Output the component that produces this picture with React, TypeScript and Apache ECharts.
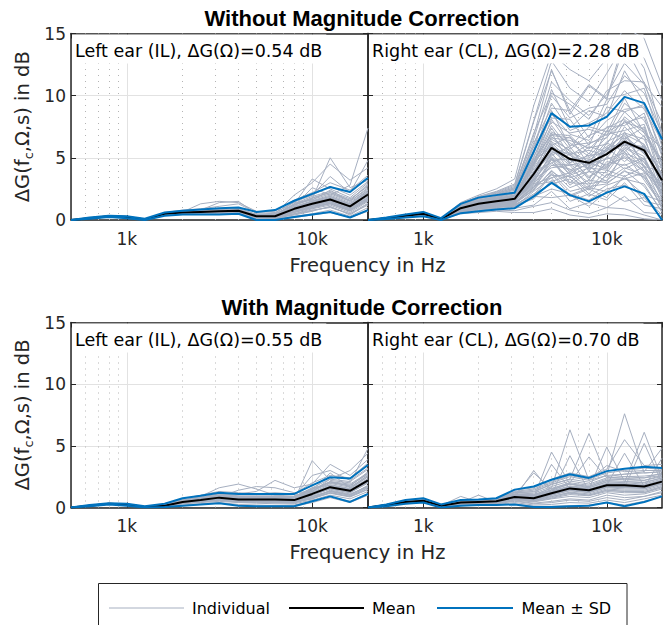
import React, { useEffect, useRef } from 'react';
import * as echarts from 'echarts';

// ---------- data ----------
const FREQS = [500, 630, 800, 1000, 1250, 1600, 2000, 2500, 3150, 4000, 5000, 6300, 8000, 10000, 12500, 16000, 20000];
const MINOR_FREQS = [600, 700, 800, 900, 2000, 3000, 4000, 5000, 6000, 7000, 8000, 9000];
const X_LABELS: Record<number, string> = { 1000: '1k', 10000: '10k' };

const TITLES = ['Without Magnitude Correction', 'With Magnitude Correction'];
const PANEL_LABELS = [
  'Left ear (IL), ΔG(Ω)=0.54 dB',
  'Right ear (CL), ΔG(Ω)=2.28 dB',
  'Left ear (IL), ΔG(Ω)=0.55 dB',
  'Right ear (CL), ΔG(Ω)=0.70 dB',
];
const LEGEND_LABELS = ['Individual', 'Mean', 'Mean ± SD'];

// top-left: without correction, left ear
const TL_MEAN = [0, 0.15, 0.3, 0.25, 0.05, 0.5, 0.6, 0.65, 0.7, 0.75, 0.3, 0.3, 0.9, 1.3, 1.65, 1.1, 2.05];
const TL_UPPER = [0, 0.2, 0.35, 0.3, 0.1, 0.6, 0.75, 0.85, 0.95, 1.0, 0.65, 0.8, 1.55, 2.1, 2.65, 2.25, 3.4];
const TL_LOWER = [0, 0.1, 0.25, 0.15, 0, 0.35, 0.45, 0.45, 0.45, 0.5, 0.0, 0.0, 0.25, 0.45, 0.65, 0.2, 0.8];
const TL_INDIVIDUAL = [
  [0, 0.15, 0.3, 0.25, 0.05, 0.5, 0.65, 0.7, 0.75, 0.8, 0.3, 0.2, 0.8, 1.2, 1.5, 0.9, 1.8],
  [0, 0.12, 0.28, 0.22, 0.03, 0.45, 0.55, 0.6, 0.6, 0.7, 0.2, 0.1, 0.5, 0.9, 1.2, 0.6, 1.5],
  [0, 0.18, 0.33, 0.3, 0.08, 0.6, 0.8, 0.9, 1.1, 1.3, 0.6, 0.7, 1.6, 2.2, 3.0, 2.4, 3.6],
  [0, 0.14, 0.27, 0.2, 0.02, 0.4, 0.5, 0.5, 0.5, 0.55, 0.1, 0.05, 0.3, 0.5, 0.8, 0.3, 1.0],
  [0, 0.16, 0.31, 0.27, 0.06, 0.55, 0.7, 0.8, 1.4, 1.5, 0.5, 0.4, 1.2, 1.8, 2.2, 1.6, 2.8],
  [0, 0.13, 0.29, 0.24, 0.04, 0.5, 0.6, 0.65, 0.7, 0.7, 0.25, 0.35, 1.0, 1.5, 1.9, 1.3, 2.3],
  [0, 0.15, 0.3, 0.26, 0.05, 0.45, 0.55, 0.6, 0.65, 0.75, 0.3, 0.25, 0.7, 1.0, 1.4, 0.8, 1.7],
  [0, 0.17, 0.32, 0.28, 0.07, 0.55, 0.65, 0.7, 0.8, 0.9, 0.4, 0.5, 2.0, 3.0, 4.5, 3.2, 4.2],
  [0, 0.11, 0.26, 0.21, 0.02, 0.35, 0.45, 0.45, 0.5, 0.55, 0.05, 0.1, 0.2, 0.4, 0.6, 0.2, 0.7],
  [0, 0.15, 0.3, 0.25, 0.05, 0.5, 0.6, 0.7, 0.75, 0.8, 0.35, 0.3, 0.9, 1.4, 1.8, 1.2, 2.1],
  [0, 0.14, 0.29, 0.25, 0.05, 0.5, 0.6, 0.65, 0.7, 0.75, 0.3, 0.3, 1.1, 2.6, 2.0, 2.8, 7.4],
  [0, 0.16, 0.3, 0.26, 0.06, 0.55, 0.65, 1.3, 1.5, 1.4, 0.7, 0.6, 1.4, 1.6, 2.4, 1.5, 2.5],
  [0, 0.15, 0.3, 0.24, 0.05, 0.5, 0.6, 0.6, 0.65, 0.7, 0.3, 0.2, 0.6, 1.1, 1.3, 0.7, 1.6],
  [0, 0.13, 0.28, 0.23, 0.04, 0.45, 0.55, 0.6, 0.6, 0.65, 0.2, 0.3, 0.9, 1.3, 1.7, 1.0, 2.0],
  [0, 0.16, 0.31, 0.26, 0.06, 0.5, 0.6, 0.7, 0.8, 0.85, 0.35, 0.4, 1.3, 3.3, 2.5, 1.8, 3.0],
  [0, 0.15, 0.3, 0.25, 0.05, 0.5, 0.6, 0.65, 0.7, 0.75, 0.3, 0.2, 0.5, 0.8, 1.0, 0.5, 1.2],
  [0, 0.14, 0.29, 0.25, 0.05, 0.5, 0.6, 0.7, 0.7, 0.7, 0.25, 0.3, 1.5, 2.0, 3.5, 2.2, 4.8],
  [0, 0.15, 0.3, 0.25, 0.05, 0.55, 0.65, 0.7, 0.75, 0.8, 0.3, 0.35, 0.8, 1.2, 1.6, 1.0, 1.9],
  [0, 0.15, 0.3, 0.25, 0.05, 0.5, 0.6, 0.75, 0.9, 0.95, 0.45, 0.5, 1.2, 1.7, 5.0, 2.6, 3.2],
  [0, 0.16, 0.31, 0.26, 0.05, 0.5, 0.6, 0.6, 0.6, 0.7, 0.2, 0.15, 0.4, 0.7, 1.1, 0.4, 1.3],
  [0, 0.15, 0.3, 0.25, 0.05, 0.5, 0.62, 0.68, 0.72, 0.78, 0.32, 0.28, 1.0, 1.5, 1.9, 1.3, 2.4],
  [0, 0.14, 0.29, 0.24, 0.04, 0.48, 0.58, 0.62, 0.66, 0.72, 0.26, 0.22, 0.7, 1.1, 1.45, 0.95, 1.8],
  [0, 0.16, 0.31, 0.26, 0.06, 0.52, 0.64, 0.72, 0.8, 0.86, 0.38, 0.42, 1.3, 1.9, 2.3, 1.7, 2.7],
  [0, 0.15, 0.3, 0.25, 0.05, 0.5, 0.6, 0.66, 0.7, 0.74, 0.28, 0.26, 0.85, 1.25, 1.6, 1.05, 2.0],
  [0, 0.13, 0.28, 0.23, 0.04, 0.44, 0.52, 0.55, 0.58, 0.62, 0.15, 0.12, 0.45, 0.75, 1.05, 0.5, 1.35],
  [0, 0.16, 0.31, 0.27, 0.06, 0.55, 0.68, 0.75, 0.85, 0.9, 0.45, 0.55, 1.45, 2.0, 2.7, 2.0, 3.1],
  [0, 0.15, 0.3, 0.25, 0.05, 0.5, 0.6, 0.65, 0.72, 0.76, 0.3, 0.32, 0.95, 1.35, 1.75, 1.15, 2.2],
  [0, 0.14, 0.29, 0.25, 0.05, 0.48, 0.57, 0.63, 0.68, 0.73, 0.27, 0.25, 0.75, 1.15, 1.5, 0.85, 1.75],
  [0, 0.16, 0.31, 0.26, 0.05, 0.52, 0.63, 0.7, 0.76, 0.82, 0.36, 0.45, 1.2, 1.65, 2.1, 1.5, 2.6],
  [0, 0.15, 0.3, 0.25, 0.05, 0.5, 0.61, 0.66, 0.71, 0.77, 0.31, 0.3, 0.9, 1.3, 1.65, 1.1, 2.05],
  [0, 0.14, 0.29, 0.24, 0.05, 0.47, 0.56, 0.6, 0.64, 0.7, 0.22, 0.18, 0.6, 0.95, 1.3, 0.75, 1.55],
  [0, 0.15, 0.3, 0.26, 0.05, 0.5, 0.62, 0.7, 0.78, 0.84, 0.4, 0.38, 1.1, 1.55, 2.0, 1.4, 2.4],
  [0, 0.15, 0.3, 0.25, 0.05, 0.5, 0.6, 0.68, 0.74, 0.8, 0.33, 0.35, 1.05, 1.45, 1.8, 1.25, 2.25],
  [0, 0.16, 0.31, 0.26, 0.06, 0.53, 0.66, 0.72, 0.78, 0.83, 0.37, 0.4, 1.25, 1.75, 2.2, 1.55, 2.9],
  [0, 0.14, 0.29, 0.24, 0.04, 0.46, 0.56, 0.6, 0.63, 0.68, 0.24, 0.2, 0.65, 1.0, 1.35, 0.8, 1.65],
];

// top-right: without correction, right ear
const TR_MEAN = [0, 0.15, 0.35, 0.5, 0.08, 0.95, 1.3, 1.5, 1.7, 3.7, 5.8, 4.9, 4.6, 5.3, 6.3, 5.6, 3.2];
const TR_UPPER = [0, 0.2, 0.45, 0.65, 0.15, 1.3, 1.8, 2.0, 2.2, 5.5, 8.6, 7.5, 7.6, 8.3, 9.9, 9.4, 6.5];
const TR_LOWER = [0, 0.08, 0.2, 0.3, 0, 0.55, 0.7, 0.85, 0.95, 1.9, 3.0, 2.0, 1.5, 2.2, 2.7, 2.1, 0.0];
const TR_INDIVIDUAL = [
  [0, 0.15, 0.35, 0.5, 0.08, 0.95, 1.3, 1.5, 1.7, 3.6, 5.9, 5.2, 4.4, 5.6, 6.0, 5.8, 3.0],
  [0, 0.12, 0.3, 0.45, 0.05, 0.7, 0.9, 1.0, 1.1, 2.3, 3.4, 1.5, 2.1, 1.6, 3.0, 1.2, 0.9],
  [0, 0.17, 0.4, 0.6, 0.1, 1.2, 1.7, 2.0, 2.4, 6.2, 9.0, 8.8, 6.6, 9.7, 10.1, 10.6, 5.9],
  [0, 0.1, 0.28, 0.4, 0.04, 0.55, 0.7, 0.8, 0.75, 1.1, 1.4, 0.8, 0.5, 1.0, 0.9, 0.4, 0.0],
  [0, 0.15, 0.36, 0.52, 0.09, 1.0, 1.4, 1.7, 1.9, 4.9, 6.8, 6.6, 5.7, 7.1, 7.8, 8.3, 4.0],
  [0, 0.14, 0.33, 0.48, 0.07, 0.85, 1.1, 1.3, 1.4, 2.4, 4.9, 2.8, 3.9, 3.1, 5.5, 3.2, 1.2],
  [0, 0.18, 0.42, 0.62, 0.12, 1.3, 1.9, 2.3, 2.9, 8.0, 12.8, 10.6, 9.5, 11.8, 14.2, 13.0, 9.6],
  [0, 0.15, 0.35, 0.5, 0.08, 0.9, 1.25, 1.45, 1.6, 3.9, 4.6, 5.3, 3.2, 5.8, 4.7, 6.0, 2.0],
  [0, 0.16, 0.38, 0.55, 0.1, 1.1, 1.5, 1.8, 2.1, 4.6, 8.8, 5.9, 7.5, 7.1, 9.8, 7.0, 5.8],
  [0, 0.13, 0.31, 0.46, 0.06, 0.75, 1.0, 1.1, 1.2, 1.8, 3.7, 2.0, 2.6, 2.3, 3.4, 2.0, 1.5],
  [0, 0.15, 0.35, 0.5, 0.08, 0.95, 1.35, 1.6, 1.8, 3.7, 7.0, 4.6, 5.9, 5.5, 8.0, 5.8, 4.3],
  [0, 0.11, 0.29, 0.43, 0.05, 0.6, 0.8, 0.9, 0.95, 1.2, 2.3, 0.9, 1.4, 1.0, 1.9, 0.6, 0.5],
  [0, 0.17, 0.4, 0.58, 0.11, 1.25, 1.75, 2.1, 2.6, 7.0, 10.2, 9.3, 8.1, 10.4, 11.2, 11.1, 6.8],
  [0, 0.14, 0.34, 0.49, 0.07, 0.9, 1.2, 1.4, 1.5, 3.3, 4.2, 4.4, 2.7, 5.1, 4.1, 4.9, 1.7],
  [0, 0.15, 0.35, 0.5, 0.08, 0.95, 1.3, 1.55, 1.75, 3.9, 5.2, 5.9, 3.9, 6.2, 5.5, 6.8, 2.4],
  [0, 0.13, 0.32, 0.47, 0.06, 0.8, 1.05, 1.2, 1.3, 2.8, 3.1, 3.6, 2.1, 3.7, 3.3, 3.8, 0.9],
  [0, 0.18, 0.41, 0.6, 0.11, 1.3, 1.8, 2.2, 2.7, 6.8, 12.1, 8.5, 10.8, 9.7, 14.1, 11.0, 9.1],
  [0, 0.16, 0.37, 0.54, 0.09, 1.05, 1.45, 1.75, 2.0, 4.5, 8.1, 6.0, 6.2, 6.6, 8.7, 7.2, 4.7],
  [0, 0.1, 0.26, 0.38, 0.03, 0.5, 0.6, 0.7, 0.6, 0.6, 0.9, 0.4, 0.2, 0.5, 0.4, 0.1, 0.0],
  [0, 0.15, 0.35, 0.5, 0.08, 0.95, 1.3, 1.5, 1.65, 3.2, 6.1, 3.8, 5.4, 4.2, 7.1, 4.3, 3.9],
  [0, 0.16, 0.39, 0.56, 0.1, 1.15, 1.6, 1.9, 2.2, 5.9, 8.2, 8.1, 6.0, 9.1, 8.7, 9.3, 5.1],
  [0, 0.12, 0.3, 0.45, 0.05, 0.72, 0.95, 1.05, 1.15, 1.7, 3.2, 1.9, 2.5, 1.8, 3.6, 1.5, 1.2],
  [0, 0.19, 0.43, 0.65, 0.13, 1.4, 2.0, 2.5, 3.3, 9.2, 13.4, 12.1, 11.2, 13.0, 15.5, 14.6, 10.8],
  [0, 0.14, 0.34, 0.49, 0.07, 0.88, 1.15, 1.35, 1.45, 2.6, 5.0, 3.0, 4.3, 3.4, 5.3, 3.9, 2.6],
  [0, 0.15, 0.36, 0.52, 0.09, 1.0, 1.4, 1.65, 1.85, 4.7, 6.0, 6.7, 4.4, 7.2, 6.5, 7.5, 3.0],
  [0, 0.12, 0.3, 0.44, 0.05, 0.65, 0.85, 0.95, 1.0, 1.9, 1.8, 2.0, 1.1, 2.3, 1.5, 1.8, 0.1],
  [0, 0.17, 0.39, 0.57, 0.11, 1.2, 1.7, 2.0, 2.5, 5.6, 10.5, 7.4, 8.8, 8.3, 12.0, 9.4, 6.7],
  [0, 0.13, 0.33, 0.48, 0.07, 0.82, 1.1, 1.25, 1.35, 2.9, 3.4, 3.8, 2.5, 4.0, 3.5, 4.3, 1.3],
  [0, 0.15, 0.35, 0.51, 0.08, 0.97, 1.33, 1.58, 1.78, 3.8, 6.2, 4.8, 5.0, 5.9, 6.8, 5.4, 4.1],
  [0, 0.14, 0.34, 0.5, 0.08, 0.92, 1.22, 1.42, 1.55, 3.0, 5.4, 3.6, 4.2, 4.0, 6.2, 4.2, 2.9],
  [0, 0.18, 0.41, 0.61, 0.12, 1.35, 1.85, 2.25, 2.8, 7.9, 12.0, 8.8, 10.9, 9.8, 14.6, 12.2, 7.0],
  [0, 0.13, 0.31, 0.46, 0.06, 0.78, 1.0, 1.15, 1.25, 2.0, 3.8, 2.3, 2.7, 2.9, 4.0, 2.7, 0.7],
  [0, 0.14, 0.33, 0.47, 0.07, 0.9, 1.2, 1.4, 1.6, 3.1, 5.3, 4.0, 4.9, 4.4, 5.9, 5.1, 2.2],
  [0, 0.16, 0.37, 0.53, 0.09, 1.05, 1.4, 1.65, 1.9, 4.4, 7.4, 5.2, 6.1, 6.9, 7.2, 7.7, 3.4],
  [0, 0.15, 0.35, 0.5, 0.08, 0.92, 1.25, 1.45, 1.65, 3.4, 6.5, 5.6, 4.1, 5.0, 6.6, 4.6, 2.8],
  [0, 0.13, 0.32, 0.47, 0.06, 0.8, 1.1, 1.3, 1.4, 2.6, 4.4, 4.1, 3.0, 4.7, 4.4, 5.0, 1.9],
  [0, 0.17, 0.38, 0.55, 0.1, 1.1, 1.55, 1.85, 2.15, 5.1, 7.9, 7.0, 7.3, 6.8, 9.4, 8.0, 5.4],
  [0, 0.15, 0.36, 0.51, 0.08, 0.98, 1.35, 1.6, 1.8, 4.1, 5.6, 4.4, 4.8, 5.7, 6.9, 6.1, 3.6],
  [0, 0.14, 0.34, 0.49, 0.07, 0.88, 1.2, 1.4, 1.55, 3.3, 4.8, 4.9, 3.5, 4.3, 5.1, 4.4, 2.0],
  [0, 0.16, 0.37, 0.54, 0.09, 1.02, 1.42, 1.7, 1.95, 4.6, 7.6, 5.7, 6.8, 7.4, 8.1, 6.7, 4.9],
  [0, 0.12, 0.3, 0.45, 0.05, 0.7, 0.95, 1.1, 1.2, 2.1, 2.9, 3.3, 1.9, 2.8, 3.3, 2.9, 0.6],
  [0, 0.17, 0.39, 0.57, 0.1, 1.15, 1.6, 1.9, 2.3, 5.3, 9.4, 7.2, 7.8, 8.6, 10.4, 8.9, 6.3],
  [0, 0.15, 0.35, 0.5, 0.08, 0.95, 1.3, 1.5, 1.7, 3.7, 5.5, 5.0, 4.3, 5.6, 6.4, 5.7, 3.1],
  [0, 0.14, 0.33, 0.48, 0.07, 0.86, 1.15, 1.35, 1.5, 2.9, 4.6, 3.4, 3.9, 3.8, 5.7, 4.0, 2.3],
  [0, 0.16, 0.38, 0.55, 0.09, 1.08, 1.48, 1.75, 2.0, 4.8, 6.9, 6.8, 5.3, 7.5, 7.6, 8.6, 4.4],
  [0, 0.13, 0.31, 0.46, 0.06, 0.78, 1.05, 1.2, 1.3, 2.4, 4.0, 2.6, 3.2, 3.0, 3.9, 3.5, 1.0],
  [0, 0.15, 0.36, 0.52, 0.09, 1.0, 1.38, 1.62, 1.82, 4.2, 6.3, 5.3, 5.6, 5.2, 7.5, 6.0, 3.7],
  [0, 0.18, 0.41, 0.6, 0.11, 1.25, 1.75, 2.15, 2.6, 6.5, 11.1, 9.6, 8.4, 10.1, 12.6, 10.9, 7.8],
  [0, 0.14, 0.34, 0.49, 0.07, 0.9, 1.22, 1.43, 1.58, 3.4, 5.1, 3.9, 4.5, 4.9, 5.4, 4.7, 2.6],
  [0, 0.16, 0.36, 0.52, 0.09, 1.0, 1.36, 1.6, 1.8, 3.9, 6.7, 5.5, 4.7, 6.3, 7.0, 6.5, 3.3],
  [0, 0.13, 0.32, 0.47, 0.06, 0.82, 1.08, 1.25, 1.35, 2.7, 3.6, 3.5, 2.4, 3.6, 4.5, 3.4, 1.4],
  [0, 0.15, 0.35, 0.5, 0.08, 0.94, 1.28, 1.5, 1.68, 3.6, 5.7, 4.6, 5.2, 5.4, 6.1, 5.9, 2.7],
  [0, 0.17, 0.39, 0.56, 0.1, 1.12, 1.55, 1.85, 2.2, 5.0, 8.5, 6.9, 6.4, 8.0, 8.9, 9.1, 5.5],
  [0, 0.14, 0.33, 0.48, 0.07, 0.87, 1.18, 1.38, 1.52, 3.0, 4.4, 4.5, 3.4, 4.5, 5.0, 3.9, 2.1],
  [0, 0.16, 0.37, 0.53, 0.09, 1.03, 1.4, 1.66, 1.88, 4.3, 7.1, 6.2, 5.1, 6.7, 7.9, 7.3, 4.2],
  [0, 0.12, 0.3, 0.44, 0.05, 0.68, 0.92, 1.05, 1.1, 1.9, 2.5, 2.1, 1.6, 2.5, 2.8, 1.9, 0.4],
  [0, 0.15, 0.35, 0.5, 0.08, 0.96, 1.32, 1.55, 1.75, 3.8, 5.4, 5.4, 4.0, 5.3, 6.7, 5.3, 3.5],
  [0, 0.18, 0.4, 0.58, 0.11, 1.22, 1.7, 2.05, 2.5, 6.0, 10.0, 8.2, 9.0, 9.3, 11.6, 10.2, 6.9],
  [0, 0.14, 0.34, 0.49, 0.07, 0.89, 1.2, 1.4, 1.55, 3.2, 5.0, 3.7, 4.6, 4.1, 5.8, 4.9, 2.5],
  [0, 0.16, 0.37, 0.54, 0.09, 1.05, 1.45, 1.72, 1.95, 4.5, 6.6, 6.4, 5.8, 6.1, 8.3, 7.0, 4.6],
  [0, 0.13, 0.32, 0.46, 0.06, 0.8, 1.05, 1.22, 1.3, 2.5, 3.9, 3.0, 2.9, 3.2, 4.2, 3.6, 1.6],
  [0, 0.15, 0.36, 0.51, 0.08, 0.97, 1.3, 1.52, 1.72, 3.5, 6.0, 4.5, 4.2, 5.8, 6.2, 5.5, 3.2],
];

// bottom-left: with correction, left ear
const BL_MEAN = [0, 0.15, 0.3, 0.25, 0.05, 0.15, 0.45, 0.6, 0.8, 0.65, 0.65, 0.65, 0.6, 1.1, 1.65, 1.35, 2.2];
const BL_UPPER = [0, 0.2, 0.35, 0.3, 0.1, 0.3, 0.75, 0.95, 1.2, 1.1, 1.1, 1.1, 1.1, 1.8, 2.45, 2.35, 3.45];
const BL_LOWER = [0, 0.1, 0.25, 0.15, 0, 0.05, 0.15, 0.25, 0.35, 0.15, 0.1, 0.1, 0.1, 0.5, 0.9, 0.45, 1.1];
const BL_INDIVIDUAL = [
  [0, 0.15, 0.3, 0.25, 0.05, 0.15, 0.45, 0.6, 0.8, 0.65, 0.65, 0.6, 0.6, 1.1, 1.6, 1.3, 2.1],
  [0, 0.12, 0.27, 0.2, 0.02, 0.1, 0.3, 0.4, 0.5, 0.4, 0.35, 0.3, 0.3, 0.6, 1.0, 0.7, 1.3],
  [0, 0.18, 0.33, 0.3, 0.08, 0.25, 0.7, 1.0, 1.3, 1.2, 1.1, 1.2, 1.1, 2.0, 2.6, 2.4, 3.6],
  [0, 0.14, 0.28, 0.22, 0.03, 0.08, 0.2, 0.3, 0.4, 0.25, 0.2, 0.15, 0.2, 0.5, 0.9, 0.5, 1.1],
  [0, 0.16, 0.31, 0.27, 0.06, 0.2, 0.55, 0.9, 1.6, 1.9, 1.5, 1.0, 0.9, 1.5, 2.0, 1.8, 2.7],
  [0, 0.15, 0.3, 0.25, 0.05, 0.15, 0.5, 0.65, 0.85, 0.7, 0.7, 0.7, 0.6, 3.8, 2.2, 2.0, 4.8],
  [0, 0.13, 0.29, 0.24, 0.04, 0.12, 0.4, 0.5, 0.7, 0.55, 0.5, 0.5, 0.5, 0.9, 1.3, 1.0, 1.8],
  [0, 0.17, 0.32, 0.28, 0.07, 0.2, 0.5, 0.7, 0.95, 0.8, 0.8, 0.8, 0.75, 1.4, 2.8, 1.6, 2.6],
  [0, 0.11, 0.26, 0.21, 0.02, 0.05, 0.15, 0.25, 0.35, 0.15, 0.1, 0.1, 0.1, 0.4, 0.8, 0.4, 1.0],
  [0, 0.15, 0.3, 0.25, 0.05, 0.15, 0.45, 0.6, 0.75, 0.6, 0.6, 0.6, 0.6, 1.0, 1.5, 1.2, 2.0],
  [0, 0.16, 0.31, 0.26, 0.06, 0.18, 0.5, 0.75, 1.0, 1.1, 1.3, 2.2, 1.6, 1.9, 3.5, 2.6, 3.9],
  [0, 0.14, 0.29, 0.25, 0.05, 0.14, 0.4, 0.55, 0.7, 0.6, 0.6, 0.65, 0.65, 1.2, 1.7, 1.4, 2.3],
  [0, 0.15, 0.3, 0.25, 0.05, 0.16, 0.45, 0.6, 0.8, 0.7, 0.9, 0.8, 0.7, 1.6, 1.8, 1.5, 2.5],
  [0, 0.13, 0.28, 0.23, 0.04, 0.1, 0.35, 0.45, 0.6, 0.45, 0.45, 0.4, 0.4, 0.8, 1.2, 0.9, 1.5],
  [0, 0.16, 0.31, 0.26, 0.06, 0.2, 0.6, 0.8, 1.1, 0.9, 0.85, 0.9, 0.9, 2.6, 3.0, 2.2, 3.2],
  [0, 0.15, 0.3, 0.25, 0.05, 0.15, 0.45, 0.55, 0.75, 0.6, 0.55, 0.55, 0.5, 0.7, 1.4, 1.1, 1.7],
  [0, 0.14, 0.29, 0.25, 0.05, 0.12, 0.5, 0.65, 0.85, 1.4, 1.7, 1.6, 1.2, 1.3, 2.3, 3.0, 4.4],
  [0, 0.15, 0.3, 0.25, 0.05, 0.15, 0.45, 0.6, 0.8, 0.7, 0.6, 0.6, 0.55, 1.1, 1.6, 1.3, 2.2],
  [0, 0.15, 0.3, 0.25, 0.05, 0.18, 0.5, 0.7, 0.9, 0.75, 0.7, 0.75, 0.7, 1.3, 2.1, 1.7, 2.9],
  [0, 0.16, 0.31, 0.26, 0.05, 0.12, 0.35, 0.5, 0.7, 0.5, 0.5, 0.45, 0.45, 0.7, 1.2, 0.9, 1.6],
  [0, 0.15, 0.3, 0.25, 0.05, 0.16, 0.48, 0.64, 0.85, 0.7, 0.7, 0.7, 0.65, 1.2, 1.75, 1.45, 2.35],
  [0, 0.14, 0.29, 0.24, 0.04, 0.13, 0.42, 0.56, 0.75, 0.6, 0.58, 0.58, 0.55, 1.0, 1.5, 1.2, 2.0],
  [0, 0.16, 0.31, 0.26, 0.06, 0.2, 0.58, 0.78, 1.0, 0.88, 0.88, 0.9, 0.85, 1.5, 2.1, 1.9, 2.8],
  [0, 0.15, 0.3, 0.25, 0.05, 0.15, 0.45, 0.6, 0.78, 0.64, 0.62, 0.62, 0.6, 1.1, 1.6, 1.35, 2.15],
  [0, 0.13, 0.28, 0.23, 0.03, 0.1, 0.32, 0.44, 0.58, 0.42, 0.4, 0.38, 0.35, 0.75, 1.15, 0.85, 1.45],
  [0, 0.16, 0.31, 0.27, 0.06, 0.22, 0.62, 0.85, 1.1, 0.95, 0.95, 0.95, 0.9, 1.6, 2.3, 2.1, 3.1],
  [0, 0.15, 0.3, 0.25, 0.05, 0.15, 0.46, 0.62, 0.82, 0.68, 0.66, 0.68, 0.62, 1.15, 1.7, 1.4, 2.3],
  [0, 0.14, 0.29, 0.25, 0.05, 0.14, 0.43, 0.58, 0.76, 0.62, 0.6, 0.6, 0.56, 1.05, 1.55, 1.25, 2.05],
  [0, 0.16, 0.31, 0.26, 0.05, 0.18, 0.52, 0.7, 0.92, 0.78, 0.76, 0.78, 0.72, 1.35, 1.95, 1.65, 2.6],
  [0, 0.15, 0.3, 0.25, 0.05, 0.15, 0.44, 0.6, 0.8, 0.66, 0.64, 0.64, 0.6, 1.1, 1.65, 1.35, 2.2],
  [0, 0.14, 0.29, 0.24, 0.05, 0.12, 0.38, 0.5, 0.66, 0.52, 0.5, 0.5, 0.48, 0.9, 1.35, 1.05, 1.75],
  [0, 0.15, 0.3, 0.26, 0.05, 0.17, 0.5, 0.67, 0.88, 0.74, 0.72, 0.74, 0.7, 1.25, 1.85, 1.55, 2.5],
  [0, 0.15, 0.3, 0.25, 0.05, 0.16, 0.47, 0.63, 0.83, 0.69, 0.68, 0.68, 0.64, 1.15, 1.7, 1.4, 2.25],
  [0, 0.16, 0.31, 0.26, 0.06, 0.19, 0.55, 0.74, 0.97, 0.84, 0.82, 0.85, 0.8, 1.45, 2.05, 1.8, 2.75],
  [0, 0.14, 0.29, 0.24, 0.04, 0.11, 0.36, 0.48, 0.63, 0.5, 0.48, 0.46, 0.44, 0.85, 1.3, 0.98, 1.65],
];

// bottom-right: with correction, right ear
const BR_MEAN = [0, 0.2, 0.45, 0.55, 0.15, 0.4, 0.45, 0.5, 0.85, 0.75, 1.15, 1.55, 1.4, 1.8, 1.8, 1.7, 2.1];
const BR_UPPER = [0, 0.25, 0.6, 0.75, 0.25, 0.6, 0.65, 0.75, 1.45, 1.7, 2.25, 2.7, 2.4, 2.95, 3.15, 3.3, 3.2];
const BR_LOWER = [0, 0.1, 0.3, 0.4, 0.0, 0.15, 0.2, 0.2, 0.25, 0.05, 0.05, 0.1, 0.15, 0.4, 0.1, 0.45, 0.9];
const BR_INDIVIDUAL = [
  [0, 0.2, 0.45, 0.55, 0.15, 0.4, 0.45, 0.5, 0.85, 0.7, 1.1, 1.5, 1.3, 1.8, 1.7, 1.6, 2.0],
  [0, 0.15, 0.35, 0.45, 0.05, 0.25, 0.3, 0.3, 0.5, 0.3, 0.4, 0.6, 0.5, 0.8, 0.6, 0.9, 1.2],
  [0, 0.25, 0.55, 0.7, 0.25, 0.55, 0.6, 0.7, 1.3, 1.5, 2.1, 2.6, 2.3, 2.8, 3.0, 3.2, 3.1],
  [0, 0.12, 0.3, 0.4, 0.02, 0.15, 0.2, 0.2, 0.3, 0.1, 0.1, 0.15, 0.2, 0.4, 0.2, 0.5, 0.9],
  [0, 0.22, 0.5, 0.62, 0.18, 0.5, 0.55, 0.6, 1.1, 1.0, 1.6, 6.3, 2.2, 2.6, 7.6, 2.8, 2.9],
  [0, 0.2, 0.45, 0.55, 0.15, 0.4, 1.0, 0.45, 0.9, 0.8, 4.5, 1.9, 1.6, 2.1, 2.0, 6.1, 2.3],
  [0, 0.18, 0.4, 0.5, 0.1, 0.35, 0.4, 0.45, 0.7, 0.6, 0.9, 1.2, 1.0, 1.4, 1.3, 1.2, 1.7],
  [0, 0.23, 0.52, 0.65, 0.2, 0.5, 0.55, 0.65, 1.2, 1.3, 1.9, 2.3, 6.0, 2.5, 2.7, 2.9, 4.8],
  [0, 0.17, 0.38, 0.48, 0.08, 0.3, 0.35, 0.35, 0.6, 0.45, 0.7, 0.9, 0.8, 1.2, 1.0, 1.1, 1.5],
  [0, 0.21, 0.47, 0.58, 0.16, 0.45, 0.5, 0.55, 0.95, 0.85, 1.3, 1.7, 1.5, 4.9, 2.1, 2.0, 2.4],
  [0, 0.2, 0.45, 0.55, 0.15, 0.4, 0.45, 0.5, 0.8, 3.0, 1.2, 1.6, 1.4, 1.9, 1.9, 1.8, 2.2],
  [0, 0.24, 0.54, 0.68, 0.22, 0.55, 0.6, 0.7, 1.4, 1.6, 2.3, 2.8, 2.5, 3.1, 5.5, 3.4, 3.5],
  [0, 0.16, 0.36, 0.46, 0.06, 0.28, 0.32, 0.33, 0.55, 0.35, 0.5, 0.7, 0.6, 1.0, 0.8, 0.9, 1.3],
  [0, 0.2, 0.46, 0.56, 0.16, 0.42, 0.47, 0.52, 0.9, 0.8, 1.2, 1.6, 1.45, 1.85, 1.9, 1.75, 2.15],
  [0, 0.19, 0.43, 0.53, 0.13, 0.38, 0.42, 0.48, 0.8, 0.7, 1.05, 4.2, 1.3, 1.7, 1.6, 5.2, 2.0],
  [0, 0.22, 0.5, 0.6, 0.18, 0.48, 0.52, 0.6, 1.0, 0.95, 1.4, 1.9, 1.7, 2.2, 2.3, 2.2, 2.6],
  [0, 0.14, 0.33, 0.43, 0.03, 0.2, 0.25, 0.25, 0.4, 0.2, 0.25, 0.4, 0.35, 0.6, 0.4, 0.7, 1.0],
  [0, 0.21, 0.48, 0.6, 0.17, 0.45, 0.5, 0.58, 1.0, 2.8, 1.5, 2.0, 4.1, 2.4, 2.5, 2.4, 2.8],
  [0, 0.2, 0.45, 0.55, 0.15, 0.9, 0.45, 0.5, 0.85, 0.75, 1.15, 1.5, 1.4, 1.8, 4.4, 1.7, 2.1],
  [0, 0.18, 0.42, 0.52, 0.12, 0.36, 0.4, 0.46, 0.75, 0.65, 1.0, 1.35, 1.2, 1.6, 1.5, 1.5, 1.9],
  [0, 0.23, 0.53, 0.66, 0.2, 0.52, 0.58, 0.68, 1.25, 1.4, 2.0, 2.5, 2.2, 3.4, 2.9, 3.0, 3.0],
  [0, 0.19, 0.44, 0.54, 0.14, 0.4, 0.44, 0.5, 0.85, 0.75, 3.5, 1.5, 1.35, 1.75, 1.75, 1.65, 4.0],
  [0, 0.2, 0.46, 0.56, 0.15, 0.41, 0.46, 0.52, 0.88, 0.8, 1.2, 1.6, 1.45, 1.9, 1.9, 1.8, 2.2],
  [0, 0.19, 0.43, 0.53, 0.13, 0.37, 0.42, 0.47, 0.78, 0.62, 1.0, 1.4, 1.25, 1.65, 1.6, 1.55, 1.95],
  [0, 0.22, 0.5, 0.62, 0.19, 0.5, 0.55, 0.63, 1.1, 1.15, 1.7, 2.15, 1.9, 2.4, 2.5, 2.55, 2.7],
  [0, 0.2, 0.45, 0.55, 0.15, 0.4, 0.45, 0.5, 0.85, 0.74, 1.15, 1.55, 1.4, 1.8, 1.8, 1.7, 2.1],
  [0, 0.17, 0.39, 0.49, 0.09, 0.32, 0.36, 0.4, 0.65, 0.5, 0.75, 1.05, 0.95, 1.3, 1.2, 1.2, 1.6],
  [0, 0.23, 0.52, 0.64, 0.2, 0.52, 0.57, 0.66, 1.2, 1.25, 1.85, 2.3, 2.05, 2.6, 2.7, 2.8, 2.9],
  [0, 0.2, 0.46, 0.56, 0.16, 0.42, 0.47, 0.53, 0.9, 0.82, 1.25, 1.65, 1.5, 1.95, 2.0, 1.9, 2.3],
  [0, 0.19, 0.44, 0.54, 0.14, 0.39, 0.43, 0.49, 0.82, 0.7, 1.1, 1.45, 1.3, 1.7, 1.7, 1.6, 2.0],
  [0, 0.21, 0.48, 0.6, 0.17, 0.46, 0.51, 0.58, 1.0, 0.98, 1.45, 1.9, 1.7, 2.2, 2.25, 2.2, 2.5],
  [0, 0.18, 0.41, 0.51, 0.11, 0.34, 0.38, 0.43, 0.72, 0.58, 0.88, 1.25, 1.1, 1.5, 1.4, 1.4, 1.8],
  [0, 0.2, 0.45, 0.55, 0.15, 0.4, 0.45, 0.5, 0.86, 0.76, 1.18, 1.58, 1.42, 1.82, 1.85, 1.75, 2.12],
  [0, 0.22, 0.49, 0.61, 0.18, 0.48, 0.53, 0.6, 1.05, 1.05, 1.55, 2.0, 1.8, 2.3, 2.35, 2.4, 2.6],
  [0, 0.19, 0.43, 0.53, 0.13, 0.38, 0.42, 0.47, 0.8, 0.66, 1.05, 1.45, 1.3, 1.7, 1.65, 1.6, 2.0],
  [0, 0.21, 0.47, 0.58, 0.16, 0.44, 0.49, 0.55, 0.95, 0.9, 1.35, 1.75, 1.6, 2.05, 2.1, 2.05, 2.4],
  [0, 0.18, 0.4, 0.5, 0.1, 0.33, 0.37, 0.42, 0.68, 0.55, 0.8, 1.15, 1.0, 1.4, 1.3, 1.3, 1.7],
];

const PANELS = [
  { individual: TL_INDIVIDUAL, mean: TL_MEAN, upper: TL_UPPER, lower: TL_LOWER },
  { individual: TR_INDIVIDUAL, mean: TR_MEAN, upper: TR_UPPER, lower: TR_LOWER },
  { individual: BL_INDIVIDUAL, mean: BL_MEAN, upper: BL_UPPER, lower: BL_LOWER },
  { individual: BR_INDIVIDUAL, mean: BR_MEAN, upper: BR_UPPER, lower: BR_LOWER },
];

// ---------- layout & style ----------
const GRIDS = [
  { left: 71, top: 33.5, width: 297, height: 186.5 },
  { left: 368, top: 33.5, width: 294, height: 186.5 },
  { left: 71, top: 322.5, width: 297, height: 185 },
  { left: 368, top: 322.5, width: 294, height: 185 },
];
const FONT = "'DejaVu Sans', 'Liberation Sans', sans-serif";
const TITLE_FONT = "'Liberation Sans', Arial, sans-serif";
const AXIS_COLOR = '#262626';
const GREY = '#A6AFC0';
const BLUE = '#0072BD';
const GRID_COLOR = '#E2E2E2';
const MINOR_COLOR = '#B4B4B4';

function pairs(vals: number[]) {
  return FREQS.map((f, i) => [f, vals[i]]);
}

function buildOption() {
  const xAxis: any[] = [];
  const yAxis: any[] = [];
  const series: any[] = [];
  const graphic: any[] = [];

  GRIDS.forEach((g, i) => {
    const isLeft = i % 2 === 0;
    const axisLine = { show: true, onZero: false, lineStyle: { color: AXIS_COLOR, width: 1.5 } };
    const tick = { show: true, inside: true, length: 5, lineStyle: { color: AXIS_COLOR, width: 1 } };
    xAxis.push({
      type: 'log', logBase: 10, gridIndex: i, min: 500, max: 20000, position: 'bottom',
      axisLine, axisTick: tick,
      axisLabel: {
        show: true, margin: 10, color: AXIS_COLOR, fontFamily: FONT, fontSize: 17,
        showMinLabel: false, showMaxLabel: false,
        formatter: (v: number) => X_LABELS[Math.round(v)] || '',
      },
      splitLine: { show: true, lineStyle: { color: GRID_COLOR, width: 1 } },
    });
    xAxis.push({
      type: 'log', logBase: 10, gridIndex: i, min: 500, max: 20000, position: 'top',
      axisLine, axisTick: tick, axisLabel: { show: false }, splitLine: { show: false },
    });
    yAxis.push({
      type: 'value', gridIndex: i, min: 0, max: 15, interval: 5, position: 'left',
      axisLine, axisTick: tick,
      axisLabel: { show: isLeft, margin: 5, color: AXIS_COLOR, fontFamily: FONT, fontSize: 17 },
      splitLine: { show: true, lineStyle: { color: GRID_COLOR, width: 1 } },
      name: isLeft ? 'ΔG(f{sub|c},Ω,s) in dB' : '',
      nameLocation: 'middle', nameRotate: 90, nameGap: 36,
      nameTextStyle: {
        color: AXIS_COLOR, fontFamily: FONT, fontSize: 19.5, lineHeight: 26,
        rich: { sub: { color: AXIS_COLOR, fontFamily: FONT, fontSize: 13, lineHeight: 13, verticalAlign: 'bottom' } },
      },
    });
    yAxis.push({
      type: 'value', gridIndex: i, min: 0, max: 15, interval: 5, position: 'right',
      axisLine, axisTick: tick, axisLabel: { show: false }, splitLine: { show: false },
    });

    const xi = i * 2;
    const yi = i * 2;
    // minor (dotted) grid lines
    series.push({
      type: 'line', xAxisIndex: xi, yAxisIndex: yi, data: [], silent: true, z: 1,
      markLine: {
        silent: true, z: 1, symbol: ['none', 'none'], animation: false,
        label: { show: false },
        lineStyle: { color: MINOR_COLOR, type: [1, 5], width: 1 },
        emphasis: { disabled: true },
        data: MINOR_FREQS.map((f) => ({ xAxis: f })),
      },
    });
    const p = PANELS[i];
    p.individual.forEach((vals) => {
      series.push({
        type: 'line', xAxisIndex: xi, yAxisIndex: yi, data: pairs(vals), showSymbol: false, symbol: 'none',
        silent: true, z: 2, lineStyle: { color: GREY, width: 1 },
      });
    });
    series.push({
      type: 'line', xAxisIndex: xi, yAxisIndex: yi, data: pairs(p.mean), symbol: 'none',
      silent: true, z: 3, lineStyle: { color: '#000', width: 2 },
    });
    [p.upper, p.lower].forEach((vals) => {
      series.push({
        type: 'line', xAxisIndex: xi, yAxisIndex: yi, data: pairs(vals), symbol: 'none',
        silent: true, z: 4, lineStyle: { color: BLUE, width: 2 },
      });
    });

    graphic.push({
      type: 'text', x: g.left + 1, y: g.top + 1, z: 50,
      style: {
        text: PANEL_LABELS[i], fill: '#000', font: `17.5px ${FONT}`,
        align: 'left', verticalAlign: 'top', lineHeight: 22,
        backgroundColor: '#fff', padding: [5, 4, 2, 3],
      },
    });
  });

  // titles & x axis names
  [[GRIDS[0], TITLES[0]], [GRIDS[2], TITLES[1]]].forEach(([g, t]: any) => {
    graphic.push({
      type: 'text', x: 362, y: g.top - 15, z: 50,
      style: { text: t, fill: '#000', font: `bold 22px ${TITLE_FONT}`, align: 'center', verticalAlign: 'middle' },
    });
    graphic.push({
      type: 'text', x: 367.5, y: g.top + g.height + 45, z: 50,
      style: { text: 'Frequency in Hz', fill: AXIS_COLOR, font: `19.5px ${FONT}`, align: 'center', verticalAlign: 'middle' },
    });
  });

  // legend box
  const ly = 608;
  graphic.push({
    type: 'rect', z: 50, shape: { x: 98.5, y: 583.5, width: 528.5, height: 60 },
    style: { fill: '#fff', stroke: AXIS_COLOR, lineWidth: 1 },
  });
  const items = [
    { x1: 109, x2: 184, tx: 192, color: GREY, w: 1 },
    { x1: 289, x2: 364, tx: 372, color: '#000', w: 2 },
    { x1: 437, x2: 513, tx: 521.5, color: BLUE, w: 2 },
  ];
  items.forEach((it, k) => {
    graphic.push({ type: 'line', z: 51, shape: { x1: it.x1, y1: ly, x2: it.x2, y2: ly }, style: { stroke: it.color, lineWidth: it.w } });
    graphic.push({
      type: 'text', z: 51, x: it.tx, y: ly,
      style: { text: LEGEND_LABELS[k], fill: '#000', font: `16px ${FONT}`, align: 'left', verticalAlign: 'middle' },
    });
  });

  return {
    animation: false,
    backgroundColor: '#fff',
    grid: GRIDS.map((g) => ({ ...g, show: false, containLabel: false, outerBoundsMode: 'none' })),
    xAxis, yAxis, series, graphic,
  };
}

export default function App() {
  const ref = useRef<HTMLDivElement>(null);
  useEffect(() => {
    if (!ref.current) return;
    const chart = echarts.init(ref.current, undefined, { renderer: 'svg' });
    chart.setOption(buildOption() as any);
    return () => chart.dispose();
  }, []);
  return <div ref={ref} style={{ position: 'absolute', left: 0, top: 0, width: 663, height: 625 }} />;
}
